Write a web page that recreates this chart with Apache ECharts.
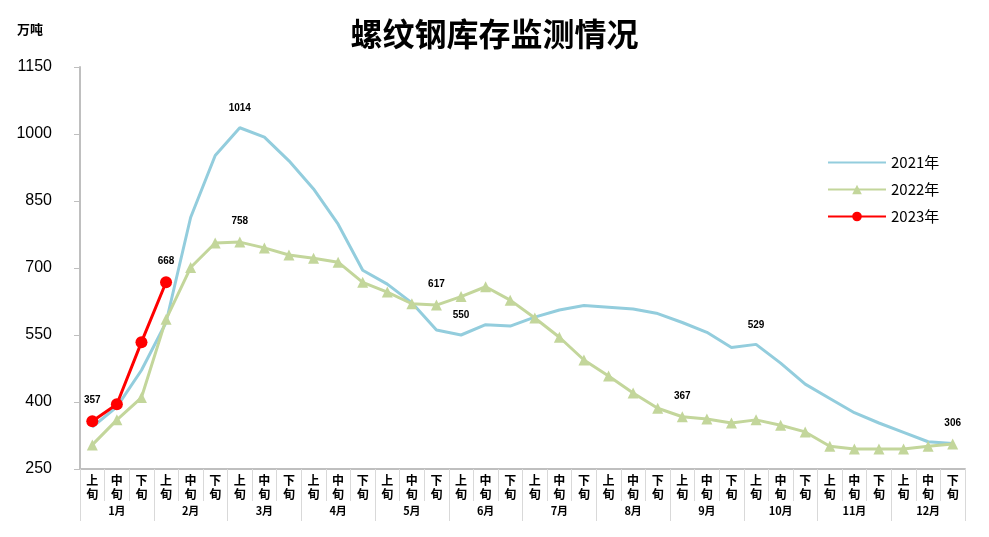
<!DOCTYPE html>
<html lang="zh-CN">
<head>
  <meta charset="UTF-8">
  <title>螺纹钢库存监测情况</title>
  <script src="https://cdn.jsdelivr.net/npm/echarts@6/dist/echarts.min.js"></script>
  <style>
    html, body { margin: 0; padding: 0; background: #fff; }
    #chart { width: 989px; height: 537px; }
  </style>
</head>
<body>
  <div id="chart"></div>
  <script>
    // 旬 / 月
    const xunNames = ['上\n旬', '中\n旬', '下\n旬'];
    const months = ['1月', '2月', '3月', '4月', '5月', '6月', '7月', '8月', '9月', '10月', '11月', '12月'];
    const categories = months.flatMap(() => xunNames);

    // 库存（万吨）
    const stock2021 = [344, 389, 471, 578, 813, 952, 1014, 993, 940, 877, 798, 695, 664, 622, 561, 550, 573, 570,
      590, 606, 616, 612, 608, 598, 578, 556, 522, 529, 487, 440, 408, 376, 353, 332, 311, 307];
    const stock2022 = [304, 360, 410, 585, 701, 756, 758, 745, 729, 722, 713, 668, 646, 620, 617, 636, 658, 628,
      588, 545, 494, 458, 420, 386, 367, 362, 353, 360, 348, 333, 301, 295, 295, 295, 301, 306];
    const stock2023 = [357, 395, 534, 668];

    // 需要标注数值的点
    const labeled2021 = [6, 15, 27];
    const labeled2022 = [6, 14, 24, 35];
    const labeled2023 = [0, 3];

    const yTicks = { min: 250, max: 1150, step: 150 };

    const valueLabel = {
      show: true, position: 'top', distance: 12,
      color: '#000', fontSize: 10, fontWeight: 'bold', fontFamily: 'Liberation Sans'
    };
    function withLabels(values, idxs, dist) {
      return values.map((v, i) => idxs.includes(i)
        ? { value: v, label: Object.assign({}, valueLabel, { distance: dist }) }
        : v);
    }

    const chart = echarts.init(document.getElementById('chart'));
    chart.setOption({
      animation: false,
      title: [
        {
          text: '螺纹钢库存监测情况', left: 'center', top: 13,
          textStyle: { fontSize: 32, fontWeight: 'bold', color: '#000', fontFamily: 'Noto Sans CJK SC' }
        },
        {
          text: '万吨', left: 12, top: 18,
          textStyle: { fontSize: 13, fontWeight: 'bold', color: '#000', fontFamily: 'Noto Sans CJK SC' }
        }
      ],
      legend: {
        orient: 'vertical', left: 822, top: 150,
        itemWidth: 58, itemHeight: 12, itemGap: 12,
        textStyle: { fontSize: 15, color: '#000', fontFamily: 'Noto Sans CJK SC' },
        data: [
          { name: '2021年', itemStyle: { opacity: 0 } },
          '2022年',
          '2023年'
        ]
      },
      grid: { left: 80, right: 24, top: 67, bottom: 68 },
      xAxis: [
        {
          type: 'category', data: categories, boundaryGap: true,
          axisLine: { lineStyle: { color: '#BFBFBF', width: 2 } },
          axisTick: { show: true, interval: 0, length: 32, lineStyle: { color: '#D9D9D9' } },
          axisLabel: {
            interval: 0, margin: 4, fontSize: 12, lineHeight: 14, fontWeight: 'bold',
            color: '#000', fontFamily: 'Noto Sans CJK SC'
          }
        },
        {
          type: 'category', data: months, position: 'bottom', boundaryGap: true,
          axisLine: { show: false },
          axisTick: { show: true, interval: 0, length: 52, lineStyle: { color: '#D9D9D9' } },
          axisLabel: {
            interval: 0, margin: 36, fontSize: 11, fontWeight: 'bold',
            color: '#000', fontFamily: 'Noto Sans CJK SC'
          }
        }
      ],
      yAxis: {
        type: 'value', min: yTicks.min, max: yTicks.max, interval: yTicks.step,
        axisLine: { show: true, lineStyle: { color: '#BFBFBF', width: 2 } },
        axisTick: { show: true, length: 6, lineStyle: { color: '#BFBFBF' } },
        axisLabel: {
          fontSize: 16, color: '#000', margin: 28, fontFamily: 'Liberation Sans',
          formatter: v => String(v)
        },
        splitLine: { show: false }
      },
      series: [
        {
          name: '2021年', type: 'line', xAxisIndex: 0,
          data: withLabels(stock2021, labeled2021, 14),
          symbol: 'circle', symbolSize: 1, showSymbol: true,
          lineStyle: { color: '#93CDDD', width: 3 },
          itemStyle: { color: '#93CDDD' },
          z: 2
        },
        {
          name: '2022年', type: 'line', xAxisIndex: 0,
          data: withLabels(stock2022, labeled2022, 10),
          symbol: 'triangle', symbolSize: 11,
          lineStyle: { color: '#C3D69B', width: 3 },
          itemStyle: { color: '#C3D69B' },
          z: 3
        },
        {
          name: '2023年', type: 'line', xAxisIndex: 0,
          data: withLabels(stock2023, labeled2023, 10),
          symbol: 'circle', symbolSize: 12,
          lineStyle: { color: '#FF0000', width: 3 },
          itemStyle: { color: '#FF0000' },
          z: 4
        }
      ]
    });
  </script>
</body>
</html>
